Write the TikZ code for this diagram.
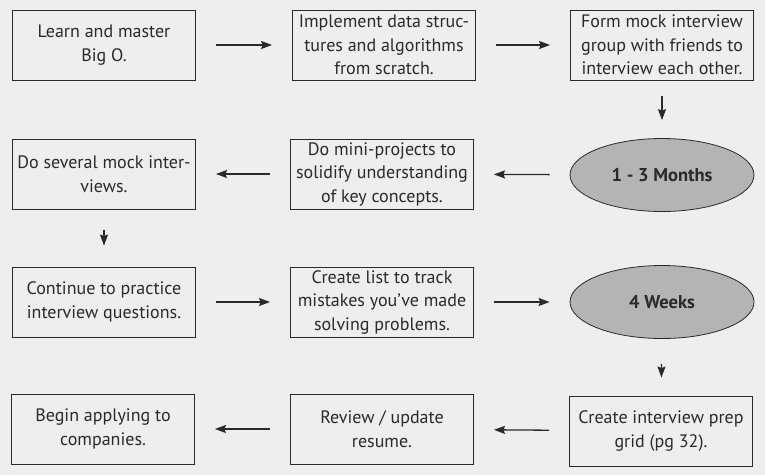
\documentclass[tikz,border=0pt]{standalone}
\usepackage{fontspec}
\setmainfont{PT Sans}
\usetikzlibrary{arrows.meta,shapes.geometric}
\definecolor{paper}{HTML}{EEEEEE}
\definecolor{ink}{HTML}{2A2A2A}
\definecolor{halftone}{HTML}{B4B4B4}
\begin{document}
\begin{tikzpicture}[x=1pt,y=-1pt,
		stepbox/.style={draw=ink,line width=0.9pt,fill=paper,minimum width=183pt,minimum height=70pt,
			inner sep=0pt,align=center,text=ink,font=\fontsize{18}{23.5}\selectfont},
		timebox/.style={ellipse,draw=ink,line width=0.8pt,fill=halftone,minimum width=184pt,minimum height=73pt,
			inner sep=0pt,text=ink,font=\fontsize{18.5}{23.5}\selectfont\bfseries},
		flow/.style={-{Stealth[length=11pt,width=8pt,inset=1.5pt]},draw=ink,line width=1.3pt,shorten <=20pt,shorten >=20pt}]
			\fill[paper] (0,0) rectangle (765,475);
			\useasboundingbox (0,0) rectangle (765,475);
			% first row
			\node[stepbox] (learn) at (104,45) {Learn and master\\Big O.};
			\node[stepbox] (implement) at (384,45) {Implement data struc-\\tures and algorithms\\from scratch.};
			\node[stepbox] (mock) at (662,45) {Form mock interview\\group with friends to\\interview each other.};
			% second row
			\node[stepbox] (interviews) at (104,174) {Do several mock inter-\\views.};
			\node[stepbox] (projects) at (382,174) {Do mini-projects to\\solidify understanding\\of key concepts.};
			\node[timebox] (months) at (662,175) {1 - 3 Months};
			% third row
			\node[stepbox] (practice) at (104,302) {Continue to practice\\interview questions.};
			\node[stepbox] (mistakes) at (382,302) {Create list to track\\mistakes you've made\\solving problems.};
			\node[timebox] (weeks) at (662,302) {4 Weeks};
			% fourth row
			\node[stepbox] (apply) at (103,429) {Begin applying to\\companies.};
			\node[stepbox] (resume) at (382,429) {Review / update\\resume.};
			\node[stepbox] (grid) at (661,431) {Create interview prep\\grid (pg 32).};
			\draw[flow] (learn) -- (implement);
			\draw[flow] (implement) -- (mock);
			\draw[flow,shorten <=16pt,shorten >=18pt] (mock) -- (months);
			\draw[flow] (months) -- (projects);
			\draw[flow] (projects) -- (interviews);
			\draw[flow,shorten <=21pt,shorten >=21pt] (interviews) -- (practice);
			\draw[flow] (practice) -- (mistakes);
			\draw[flow] (mistakes) -- (weeks);
			\draw[flow,shorten <=25pt,shorten >=18pt] (weeks) -- (grid);
			\draw[flow] (grid) -- (resume);
			\draw[flow] (resume) -- (apply);
		\end{tikzpicture}
\end{document}
